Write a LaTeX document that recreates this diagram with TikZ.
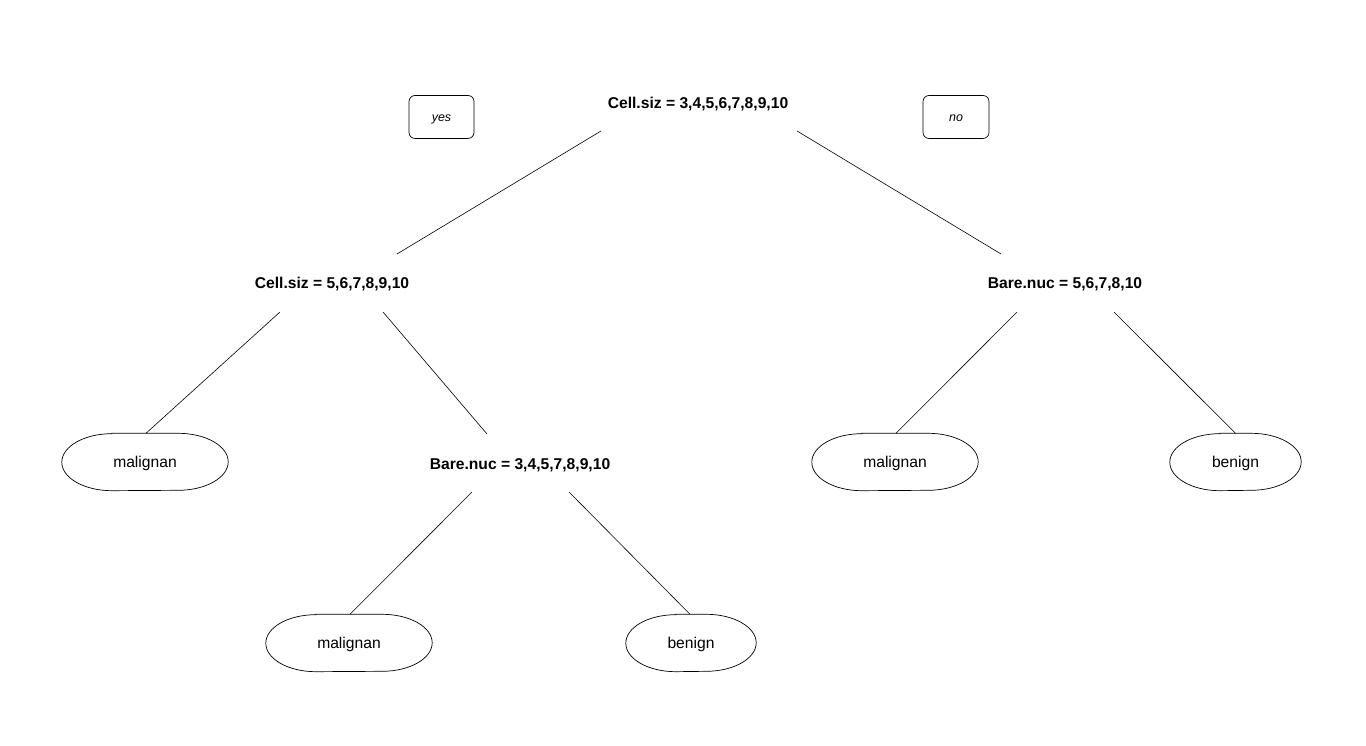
\documentclass[tikz,border=0pt]{standalone}
\usepackage{fontspec}
\setmainfont{Liberation Sans}
\usetikzlibrary{calc}
\newcommand\leafoutline[1]{%
  \draw[leafline] ($(#1.north west)+(50,0)$) -- ($(#1.north east)+(-50,0)$)
    arc[start angle=90,end angle=-90,x radius=50,y radius=28.5]
    -- ($(#1.south west)+(50,0)$)
    arc[start angle=270,end angle=90,x radius=50,y radius=28.5] -- cycle;}
\begin{document}
\begin{tikzpicture}[x=1bp,y=1bp,
  splitlab/.style={font=\fontsize{15.7}{18}\selectfont\bfseries, inner sep=0},
  leaf/.style={font=\fontsize{15.7}{18}\selectfont, minimum height=57bp, inner sep=0,
    text height=12.5bp, text depth=0.5bp},
  leafline/.style={line width=0.7pt},
  dirbox/.style={draw, line width=0.7pt, rounded corners=6bp, minimum width=65bp,
    minimum height=43bp, font=\fontsize{12.5}{14}\selectfont\itshape, inner sep=0,
    text height=10bp, text depth=0bp},
  branch/.style={line width=0.6pt}]
\useasboundingbox (0,0) rectangle (1366,745);
\fill[white] (0,0) rectangle (1366,745);

% split labels
\node[splitlab] (root) at (698,641) {Cell.siz = 3,4,5,6,7,8,9,10};
\node[splitlab] (cs) at (332,461) {Cell.siz = 5,6,7,8,9,10};
\node[splitlab] (bnr) at (1065,461) {Bare.nuc = 5,6,7,8,10};
\node[splitlab] (bnl) at (520,280) {Bare.nuc = 3,4,5,7,8,9,10};

% direction boxes
\node[dirbox] (yes) at (441.5,628) {yes};
\node[dirbox, minimum width=66bp] (no) at (956,628) {no};

% leaves
\node[leaf, minimum width=166bp] (m1) at (145,283) {malignan};
\node[leaf, minimum width=166bp] (m2) at (349,102) {malignan};
\node[leaf, minimum width=130bp] (b1) at (691,102) {benign};
\node[leaf, minimum width=166bp] (m3) at (895,283) {malignan};
\node[leaf, minimum width=131bp] (b2) at (1235.5,283) {benign};
\foreach \n in {m1,m2,b1,m3,b2} {\leafoutline{\n}}

% branches
\draw[branch] ($(root)+(-97,-27)$) -- ($(cs)+(65,30)$);
\draw[branch] ($(root)+(99,-27)$) -- ($(bnr)+(-64,30)$);
\draw[branch] ($(cs)+(-52,-28)$) -- ($(m1.north)+(1,0)$);
\draw[branch] ($(cs)+(51,-28)$) -- ($(bnl)+(-33,31)$);
\draw[branch] ($(bnr)+(-48,-28)$) -- ($(m3.north)+(1,0)$);
\draw[branch] ($(bnr)+(49,-28)$) -- (b2.north);
\draw[branch] ($(bnl)+(-48,-27)$) -- ($(m2.north)+(1,0)$);
\draw[branch] ($(bnl)+(49,-27)$) -- ($(b1.north)+(-1,0)$);
\end{tikzpicture}
\end{document}
